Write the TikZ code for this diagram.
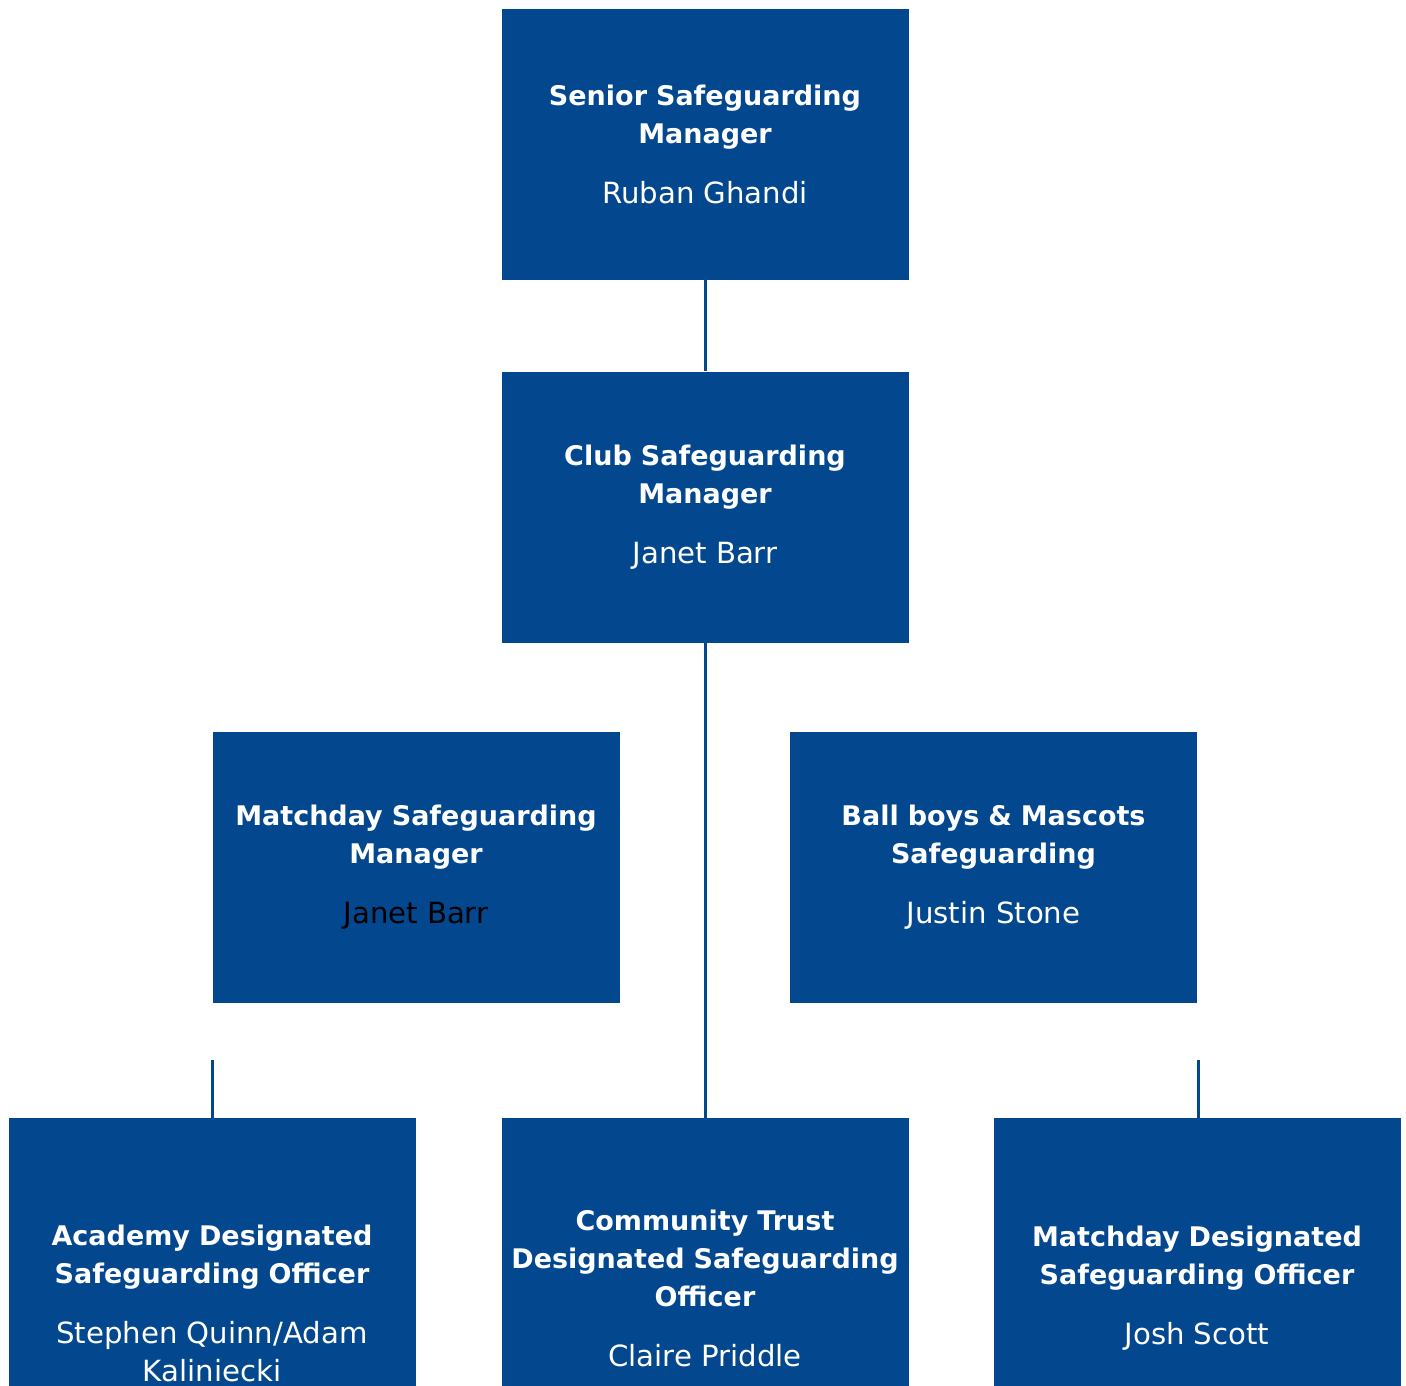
\documentclass[tikz,border=0pt]{standalone}
\usepackage{fontspec}
\setmainfont{DejaVu Sans}
\usetikzlibrary{positioning}
\definecolor{clubblue}{HTML}{03478F}

\begin{document}
\begin{tikzpicture}[
                x=0.5pt, y=-0.5pt,
                rolefont/.style={text=white, align=center, text width=200pt, font=\fontsize{13.5}{19}\selectfont},
                role/.style={rectangle, fill=clubblue, rolefont, minimum width=203.5pt, minimum height=135.5pt,
                    inner sep=0pt},
                lowrole/.style={role, minimum height=170pt},
                link/.style={draw=clubblue, line width=1.5pt},
                node distance=45.5pt
            ]
            \newcommand{\roletext}[2]{{\bfseries #1}\\[11pt]{\fontsize{14.6}{19}\selectfont #2}}

            \useasboundingbox (0,0) rectangle (1406,1385);
            \clip (0,0) rectangle (1406,1385);

            \node[role] (senior) at (705,144.5) {\roletext{Senior Safeguarding\\Manager}{Ruban Ghandi}};
            \node[role, below=of senior] (club) {\roletext{Club Safeguarding\\Manager}{Janet Barr}};

            \node[role] (matchday) at (416,867.5) {\roletext{Matchday Safeguarding\\Manager}{\textcolor{black}{Janet Barr}}};
            \node[role] (ballboys) at (993.5,867.5) {\roletext{Ball boys \& Mascots\\Safeguarding}{Justin Stone}};

            \node[lowrole, anchor=north] (community) at (705,1118) {\roletext{Community Trust\\Designated Safeguarding\\Officer}{Claire Priddle}};
            \node[lowrole, anchor=north] (academy) at (212,1118) {};
            \node[rolefont] (academytext) at (212,1303)
                {\roletext{Academy Designated\\Safeguarding Officer}{Stephen Quinn/Adam\\Kaliniecki}};
            \node[lowrole, anchor=north] (mdso) at (1197,1118) {\roletext{Matchday Designated\\Safeguarding Officer}{Josh Scott}};

            % short stubs above the outer officers
            \coordinate (academystub) at (212,1060);
            \coordinate (mdsostub) at (1198,1060);

            \draw[link] (senior) -- (club);
            \draw[link] (club) -- (community);
            \draw[link] (academystub) -- (academy.north);
            \draw[link] (mdsostub) -- (mdsostub |- mdso.north);

        \end{tikzpicture}
\end{document}
